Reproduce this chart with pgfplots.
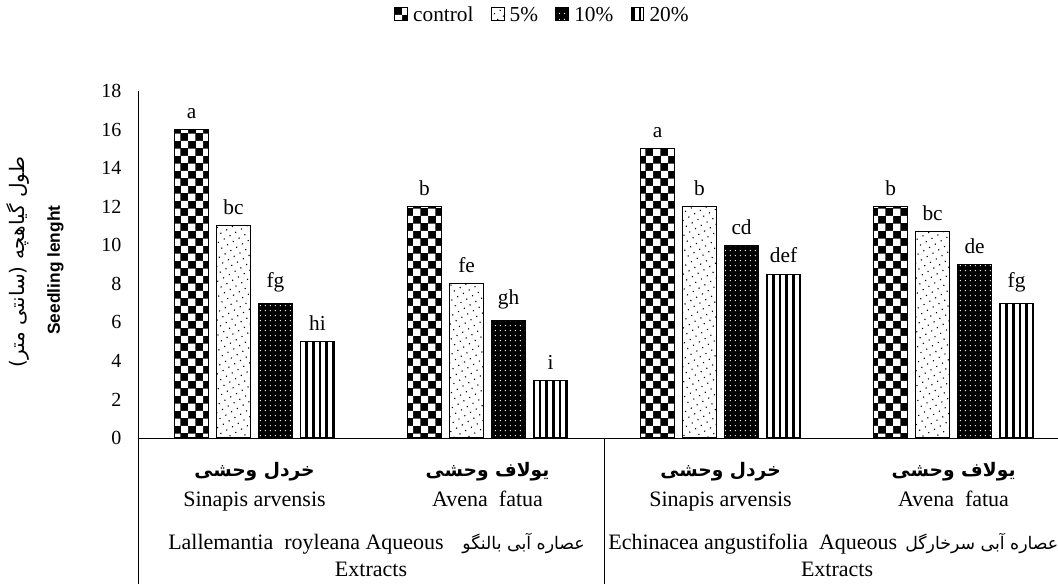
\documentclass[border=0pt]{standalone}
\usepackage{pgfplots}
\pgfplotsset{compat=1.18}
\usepackage{fontspec}
\setmainfont{Liberation Serif}
\setsansfont{Liberation Sans}
\newfontfamily\arabicfont[Script=Arabic]{DejaVu Sans}
\TeXXeTstate=1
\usetikzlibrary{patterns,patterns.meta}
\begin{document}
\begin{tikzpicture}
\begin{axis}[
  scale only axis, width=690pt, height=260.25pt,
  xmin=-0.5, xmax=3.448, ymin=0, ymax=18,
  ybar=6pt, bar width=25.5pt,
  axis x line*=bottom, axis y line*=left,
  axis line style={line width=0.7pt},
  xtick=\empty, ytick={0,2,...,18},
  major tick length=0pt,
  yticklabel style={font=\fontsize{15}{18}\selectfont, xshift=-9pt},
  /pgf/number format/assume math mode=true,
  clip=false,
  legend columns=4,
  legend style={draw=none, at={(0.44,1.219)}, anchor=center, font=\fontsize{16}{19}\selectfont,
    /tikz/every odd column/.append style={column sep=2pt},
    /tikz/every even column/.append style={column sep=11pt}},
  legend image code/.code={\draw[#1,line width=0.6pt] (0pt,-4pt) rectangle (9.5pt,5.5pt);},
  nodes near coords, point meta=explicit symbolic,
  every node near coord/.append style={font=\fontsize{16}{19}\selectfont, yshift=4.5pt, black},
]
\addplot[draw=black, line width=0.8pt, fill=black, postaction={pattern=checkerboard, pattern color=white}]
  coordinates {(0,16)[a] (1,12)[b] (2,15)[a] (3,12)[b]};
\addplot[draw=black, line width=0.8pt, fill=white, postaction={pattern={Dots[distance=5pt, radius=0.6pt, angle=30]}, pattern color=black}]
  coordinates {(0,11)[bc] (1,8)[fe] (2,12)[b] (3,10.7)[bc]};
\addplot[draw=black, line width=0.8pt, fill=black, postaction={pattern={Dots[distance=4pt, radius=0.55pt]}, pattern color=white}]
  coordinates {(0,7)[fg] (1,6.1)[gh] (2,10)[cd] (3,9)[de]};
\addplot[draw=black, line width=0.8pt, fill=white, postaction={pattern={Lines[angle=90, distance=5pt, line width=1.8pt]}, pattern color=black}]
  coordinates {(0,5)[hi] (1,3)[i] (2,8.5)[def] (3,7)[fg]};
\legend{control,5\%,10\%,20\%}

% category separators
\draw[line width=0.7pt] (axis cs:-0.5,0) -- ++(0pt,-109.5pt);
\draw[line width=0.7pt] (axis cs:1.5,0) -- ++(0pt,-109.5pt);

% species labels
\node[anchor=base, font=\fontsize{14}{17}\selectfont] at ([yshift=-29pt]axis cs:0,0) {\arabicfont\bfseries\beginR خردل وحشی\endR};
\node[anchor=base, font=\fontsize{16.5}{19}\selectfont] at ([yshift=-51.5pt]axis cs:0,0) {Sinapis arvensis};
\node[anchor=base, font=\fontsize{14}{17}\selectfont] at ([yshift=-29pt]axis cs:2,0) {\arabicfont\bfseries\beginR خردل وحشی\endR};
\node[anchor=base, font=\fontsize{16.5}{19}\selectfont] at ([yshift=-51.5pt]axis cs:2,0) {Sinapis arvensis};
\node[anchor=base, font=\fontsize{14}{17}\selectfont] at ([yshift=-29pt]axis cs:1,0) {\arabicfont\bfseries\beginR یولاف وحشی\endR};
\node[anchor=base, font=\fontsize{16.5}{19}\selectfont] at ([yshift=-51.5pt]axis cs:1,0) {Avena\ \ fatua};
\node[anchor=base, font=\fontsize{14}{17}\selectfont] at ([yshift=-29pt]axis cs:3,0) {\arabicfont\bfseries\beginR یولاف وحشی\endR};
\node[anchor=base, font=\fontsize{16.5}{19}\selectfont] at ([yshift=-51.5pt]axis cs:3,0) {Avena\ \ fatua};
% extract labels
\node[anchor=base west, inner sep=0pt, font=\fontsize{16.5}{19}\selectfont] at ([xshift=22.5pt, yshift=-84pt]axis cs:-0.5,0) {Lallemantia\ \ royleana Aqueous\hspace{14pt}{\fontsize{13}{16}\arabicfont\beginR عصاره آبی بالنگو\endR}};
\node[anchor=base, font=\fontsize{16.5}{19}\selectfont] at ([yshift=-104pt]axis cs:0.5,0) {Extracts};
\node[anchor=base west, inner sep=0pt, font=\fontsize{16.5}{19}\selectfont] at ([xshift=3pt, yshift=-84pt]axis cs:1.5,0) {Echinacea angustifolia\ \ Aqueous\hspace{6pt}{\fontsize{13}{16}\arabicfont\beginR عصاره آبی سرخارگل\endR}};
\node[anchor=base, font=\fontsize{16.5}{19}\selectfont] at ([yshift=-104pt]axis cs:2.5,0) {Extracts};

% y label
\node[rotate=90, font=\fontsize{15}{18}\selectfont] at ([xshift=-90pt]rel axis cs:0,0.507) {\arabicfont\beginR طول گیاهچه (سانتی متر)\endR};
\node[rotate=90, font=\fontsize{13}{16}\selectfont\sffamily\bfseries] at ([xshift=-62pt]rel axis cs:0,0.484) {Seedling lenght};
\end{axis}
\pgfresetboundingbox
\path[use as bounding box] (-103.5pt,-109.5pt) rectangle (690pt,328.5pt);
\end{tikzpicture}
\end{document}
